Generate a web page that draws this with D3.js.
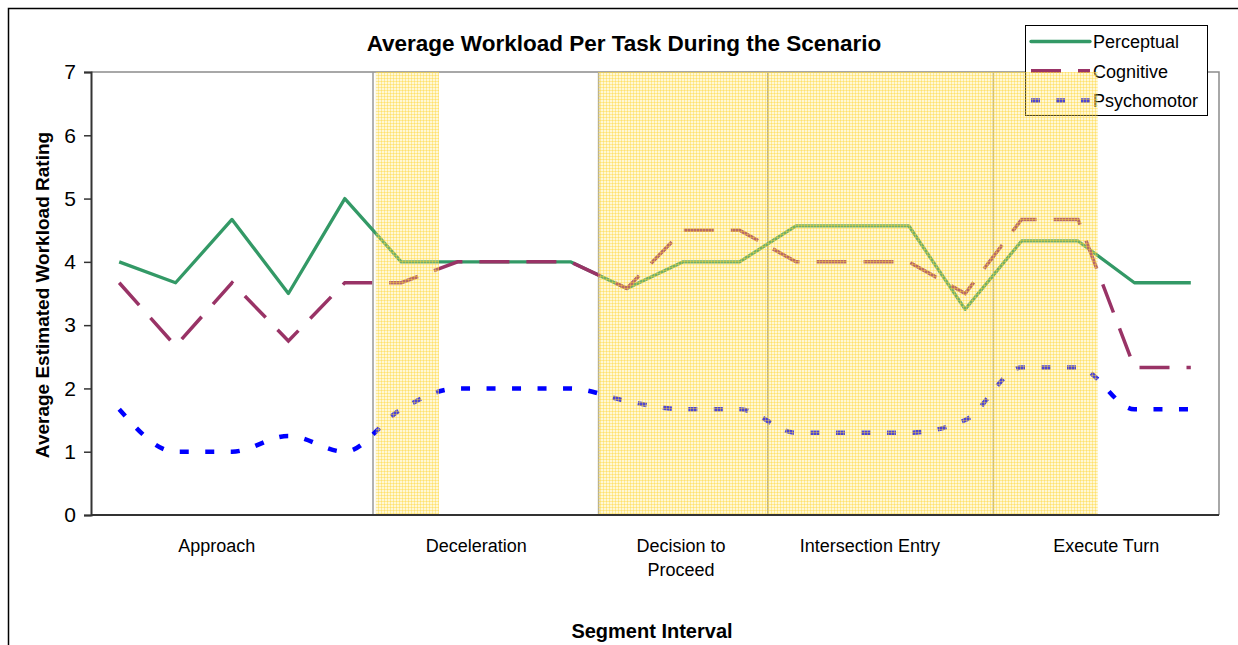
<!DOCTYPE html>
<html>
<head>
<meta charset="utf-8">
<script src="https://cdn.jsdelivr.net/npm/d3@7"></script>
<style>
  body { margin: 0; background: #fff; }
  svg { display: block; font-family: "Liberation Sans", Arial, sans-serif; }
</style>
</head>
<body>
<svg width="1238" height="645"></svg>
<script>
// values, one per task point (20 points)
var perceptual  = [4.0, 3.67, 4.67, 3.5, 5.0, 4.0, 4.0, 4.0, 4.0, 3.58, 4.0, 4.0, 4.57, 4.57, 4.57, 3.25, 4.33, 4.33, 3.67, 3.67];
var cognitive   = [3.67, 2.67, 3.67, 2.75, 3.67, 3.67, 4.0, 4.0, 4.0, 3.58, 4.5, 4.5, 4.0, 4.0, 4.0, 3.5, 4.67, 4.67, 2.33, 2.33];
var psychomotor = [1.67, 1.0, 1.0, 1.25, 1.0, 1.67, 2.0, 2.0, 2.0, 1.8, 1.67, 1.67, 1.3, 1.3, 1.3, 1.5, 2.33, 2.33, 1.67, 1.67];

// segment labels, where they sit (in point units) and the boundaries between segments
var segments     = [["Approach"], ["Deceleration"], ["Decision to", "Proceed"], ["Intersection Entry"], ["Execute Turn"]];
var segmentPos   = [2.23, 6.83, 10.46, 13.81, 18.0];
var boundaries   = [5, 9, 12, 16];
// highlighted (shaded) spans, in point units
var shadeSpans   = [[5.05, 6.17], [8.99, 17.85]];
var yTicks       = [0, 1, 2, 3, 4, 5, 6, 7];

var svg = d3.select("svg");
var margin = {top: 72, left: 91, right: 1219, bottom: 515};

var x = d3.scaleLinear().domain([0, perceptual.length]).range([margin.left, margin.right]);
var y = d3.scaleLinear().domain([0, 7]).range([margin.bottom, margin.top]);

// pattern for the shaded spans
var defs = svg.append("defs");
var pat = defs.append("pattern")
  .attr("id", "shade")
  .attr("patternUnits", "userSpaceOnUse")
  .attr("width", 3).attr("height", 3);
pat.append("rect").attr("width", 3).attr("height", 3).attr("fill", "rgba(255,232,120,0.3)");
pat.append("rect").attr("width", 3).attr("height", 1).attr("fill", "rgba(255,212,50,0.4)");
pat.append("rect").attr("width", 1).attr("height", 3).attr("fill", "rgba(255,212,50,0.4)");

// outer frame
svg.append("rect")
  .attr("x", 8.5).attr("y", 8.5)
  .attr("width", 1260).attr("height", 660)
  .attr("fill", "none").attr("stroke", "#000").attr("stroke-width", 1.5);

// plot border (top + right gray)
svg.append("path")
  .attr("d", "M" + margin.left + "," + margin.top + "H" + margin.right + "V" + margin.bottom)
  .attr("fill", "none").attr("stroke", "#8c8c8c").attr("stroke-width", 1.5);

// segment separators
svg.selectAll(".sep")
  .data(boundaries)
  .enter().append("line")
    .attr("class", "sep")
    .attr("x1", function(d) { return x(d); })
    .attr("x2", function(d) { return x(d); })
    .attr("y1", margin.top)
    .attr("y2", margin.bottom)
    .attr("stroke", "#9a9a9a")
    .attr("stroke-width", 1.5);

// y axis
var yAxis = svg.append("g")
  .attr("transform", "translate(" + margin.left + ",0)")
  .call(d3.axisLeft(y).tickValues(yTicks).tickSize(7).tickPadding(8).tickFormat(d3.format("d")));
yAxis.select(".domain").attr("stroke", "#333").attr("stroke-width", 2);
yAxis.selectAll(".tick line").attr("stroke", "#333").attr("stroke-width", 1.5);
yAxis.selectAll(".tick text")
  .attr("font-size", 21)
  .attr("fill", "#000")
  .attr("font-family", "Liberation Sans, Arial, sans-serif");

// x axis line
svg.append("line")
  .attr("x1", margin.left).attr("x2", margin.right)
  .attr("y1", margin.bottom).attr("y2", margin.bottom)
  .attr("stroke", "#333").attr("stroke-width", 2);

// lines
var idx = d3.range(perceptual.length);
function lineFor(vals, curve) {
  return d3.line()
    .x(function(i) { return x(i + 0.5); })
    .y(function(i) { return y(vals[i]); })
    .curve(curve)(idx);
}

// psychomotor is drawn smoothed
svg.append("path")
  .attr("d", lineFor(psychomotor, d3.curveMonotoneX))
  .attr("fill", "none").attr("stroke", "#0000ff")
  .attr("stroke-width", 4.5).attr("stroke-dasharray", "9 16.5");

svg.append("path")
  .attr("d", lineFor(perceptual, d3.curveLinear))
  .attr("fill", "none").attr("stroke", "#339966")
  .attr("stroke-width", 3.3).attr("stroke-linejoin", "round");

svg.append("path")
  .attr("d", lineFor(cognitive, d3.curveLinear))
  .attr("fill", "none").attr("stroke", "#993366")
  .attr("stroke-width", 3.5).attr("stroke-dasharray", "30 17");

// title
svg.append("text")
  .attr("x", 624).attr("y", 51)
  .attr("text-anchor", "middle")
  .attr("font-size", 22.5).attr("font-weight", "bold")
  .text("Average Workload Per Task During the Scenario");

// axis titles
svg.append("text")
  .attr("transform", "translate(49,295) rotate(-90)")
  .attr("text-anchor", "middle")
  .attr("font-size", 19).attr("font-weight", "bold")
  .text("Average Estimated Workload Rating");

svg.append("text")
  .attr("x", 652).attr("y", 638)
  .attr("text-anchor", "middle")
  .attr("font-size", 20).attr("font-weight", "bold")
  .text("Segment Interval");

// segment labels
var labels = svg.selectAll(".seg")
  .data(segments)
  .enter().append("text")
    .attr("class", "seg")
    .attr("text-anchor", "middle")
    .attr("font-size", 18)
    .attr("y", 552);
labels.each(function(lines, i) {
  var t = d3.select(this);
  lines.forEach(function(s, k) {
    t.append("tspan")
      .attr("x", x(segmentPos[i]))
      .attr("dy", k === 0 ? 0 : 24)
      .text(s);
  });
});

// legend
var series = [
  {name: "Perceptual", color: "#339966", width: 3.3, dash: null},
  {name: "Cognitive", color: "#993366", width: 4, dash: "30 17"},
  {name: "Psychomotor", color: "#0000ff", width: 4.5, dash: "9 16"}
];
var legend = svg.append("g");
legend.append("rect")
  .attr("x", 1025.5).attr("y", 25.5)
  .attr("width", 182).attr("height", 90)
  .attr("fill", "#fff").attr("stroke", "#000").attr("stroke-width", 1);
var items = legend.selectAll(".item")
  .data(series)
  .enter().append("g")
    .attr("class", "item")
    .attr("transform", function(d, i) { return "translate(0," + (41.5 + i * 29.5) + ")"; });
items.append("line")
  .attr("x1", 1031).attr("x2", 1090)
  .attr("stroke", function(d) { return d.color; })
  .attr("stroke-width", function(d) { return d.width; })
  .attr("stroke-dasharray", function(d) { return d.dash; })
  .attr("stroke-linecap", function(d) { return d.dash ? "butt" : "round"; });
items.append("text")
  .attr("x", 1093).attr("y", 6.5)
  .attr("font-size", 18)
  .text(function(d) { return d.name; });

// shaded spans on top of everything
svg.selectAll(".shade")
  .data(shadeSpans)
  .enter().append("rect")
    .attr("class", "shade")
    .attr("x", function(d) { return x(d[0]); })
    .attr("width", function(d) { return x(d[1]) - x(d[0]); })
    .attr("y", margin.top)
    .attr("height", margin.bottom - margin.top - 1)
    .attr("fill", "url(#shade)");
</script>
</body>
</html>
